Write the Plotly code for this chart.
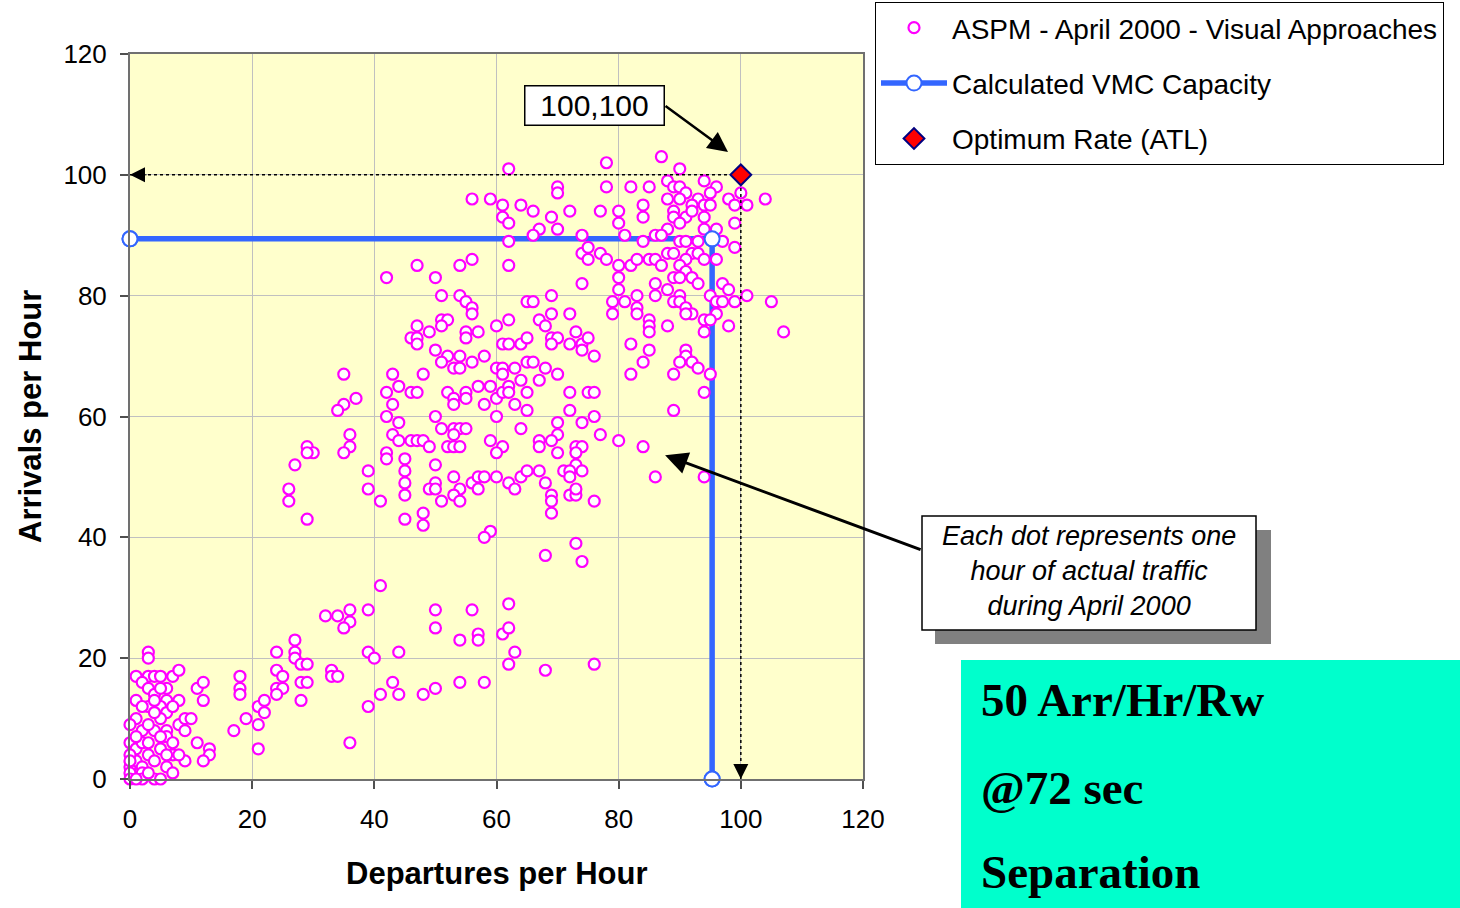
import plotly.graph_objects as go

# Hourly (departures, arrivals) counts, grouped by traffic level
night_hours = [
    (3, 21), (3, 20), (1, 17), (3, 17), (4, 17), (5, 17), (7, 17), (8, 18), (2, 16), (3, 15),
    (4, 14), (6, 15), (6, 13), (5, 15), (1, 13), (3, 12), (5, 12), (6, 11), (8, 13), (11, 15),
    (12, 16), (12, 13), (18, 17), (18, 15), (18, 14), (1, 10), (0, 9), (2, 8), (4, 8), (6, 8),
    (6, 7), (8, 9), (9, 10), (10, 10), (9, 8), (5, 10), (17, 8), (19, 10), (0, 6), (1, 5),
    (2, 6), (3, 4), (5, 5), (7, 4), (9, 3), (11, 6), (13, 5), (13, 4), (12, 3), (0, 2),
    (1, 3), (2, 2), (4, 3), (6, 2), (7, 1), (0, 1), (2, 1), (0, 0), (2, 0), (4, 0),
    (5, 0), (1, 0), (21, 12), (22, 13), (22, 11), (21, 9), (21, 5), (4, 13), (2, 12), (4, 11),
    (5, 7), (3, 9), (0, 4), (1, 7), (7, 12), (3, 6), (8, 4), (3, 1), (0, 3), (6, 4), (7, 6),
]

ramp_hours = [
    (24, 21), (27, 23), (27, 21), (27, 20), (28, 19), (29, 19), (24, 18), (25, 17), (24, 15), (25, 15),
    (24, 14), (28, 16), (29, 16), (28, 13), (32, 27), (34, 27), (36, 28), (36, 26), (35, 25), (39, 28),
    (41, 32), (39, 21), (40, 20), (44, 21), (33, 18), (33, 17), (34, 17), (43, 16), (41, 14), (44, 14),
    (48, 14), (39, 12), (36, 6), (50, 28), (56, 28), (62, 29), (50, 25), (54, 23), (57, 24), (57, 23),
    (61, 24), (62, 25), (63, 21), (62, 19), (68, 18), (76, 19), (50, 15), (54, 16), (58, 16), (68, 37),
    (73, 39), (74, 36),
]

daytime_hours = [
    (62, 85), (42, 83), (47, 85), (50, 83), (54, 85), (56, 86), (51, 80), (54, 80), (55, 79), (56, 78),
    (56, 77), (65, 79), (47, 75), (51, 76), (52, 76), (51, 75), (49, 74), (46, 73), (47, 73), (47, 72),
    (55, 74), (55, 73), (57, 74), (60, 75), (62, 76), (61, 72), (62, 72), (64, 72), (65, 73), (50, 71),
    (52, 70), (54, 70), (51, 69), (53, 68), (54, 68), (56, 69), (58, 70), (60, 68), (61, 68), (63, 68),
    (61, 67), (65, 69), (35, 67), (43, 67), (48, 67), (44, 65), (42, 64), (46, 64), (47, 64), (43, 62),
    (52, 64), (53, 63), (55, 64), (55, 63), (53, 62), (57, 65), (59, 65), (58, 62), (60, 63), (61, 64),
    (62, 65), (62, 64), (63, 62), (64, 66), (65, 64), (65, 61), (60, 60), (37, 63), (35, 62), (34, 61),
    (42, 60), (44, 59), (50, 60), (51, 58), (53, 58), (54, 58), (55, 58), (53, 57), (64, 58), (43, 57),
    (44, 56), (46, 56), (47, 56), (48, 56), (49, 55), (52, 55), (53, 55), (54, 55), (59, 56), (61, 55),
    (60, 54), (36, 57), (36, 55), (35, 54), (29, 55), (30, 54), (29, 54), (27, 52), (42, 54), (42, 53),
    (45, 53), (50, 52), (39, 51), (45, 51), (39, 48), (26, 48), (26, 46), (41, 46), (45, 49), (45, 47),
    (50, 49), (49, 48), (50, 48), (51, 46), (53, 50), (54, 48), (53, 47), (54, 46), (56, 49), (57, 50),
    (58, 50), (57, 48), (60, 50), (62, 49), (63, 48), (64, 50), (65, 51), (29, 43), (45, 43), (48, 44),
    (48, 42), (59, 41), (58, 40),
]

busy_hours = [
    (74, 87), (75, 88), (75, 86), (77, 87), (78, 86), (80, 85), (82, 85), (83, 86), (80, 83), (80, 81),
    (79, 79), (81, 79), (83, 80), (83, 78), (83, 77), (79, 77), (82, 72), (82, 67), (89, 61), (84, 55),
    (86, 50), (94, 50), (94, 64), (69, 80), (66, 79), (67, 76), (69, 77), (72, 77), (68, 75), (73, 74),
    (69, 73), (70, 73), (69, 72), (72, 72), (74, 72), (75, 73), (74, 71), (76, 70), (66, 69), (68, 68),
    (70, 67), (67, 66), (72, 64), (75, 64), (76, 64), (72, 61), (76, 60), (74, 59), (70, 59), (70, 57),
    (69, 56), (67, 56), (67, 55), (73, 55), (74, 55), (73, 54), (70, 54), (77, 57), (80, 56), (73, 52),
    (67, 51), (68, 49), (69, 47), (69, 46), (69, 44), (71, 51), (72, 51), (72, 50), (74, 51), (72, 47),
    (73, 47), (73, 48), (76, 46), (74, 82),
    (62, 101), (78, 102), (70, 98), (70, 97), (78, 98), (82, 98), (56, 96), (59, 96), (61, 95), (64, 95),
    (66, 94), (61, 93), (62, 92), (69, 93), (72, 94), (77, 94), (80, 94), (80, 92), (67, 91), (66, 90),
    (70, 91), (62, 89), (74, 90), (81, 90),
]

peak_hours = [
    (87, 103), (90, 101), (85, 98), (88, 99), (89, 98), (90, 98), (91, 97), (94, 99), (96, 98), (95, 97),
    (88, 96), (90, 96), (93, 96), (92, 95), (94, 95), (95, 95), (98, 96), (99, 95), (101, 95), (104, 96),
    (100, 97), (84, 95), (84, 93), (89, 94), (89, 93), (91, 93), (94, 93), (90, 92), (92, 94), (99, 92),
    (88, 91), (94, 91), (96, 91), (86, 90), (87, 90), (90, 89), (91, 89), (93, 89), (84, 89), (97, 89),
    (99, 88), (88, 87), (89, 87), (92, 87), (93, 87), (85, 86), (86, 86), (87, 85), (91, 86), (94, 86),
    (96, 86), (90, 85), (91, 84), (92, 83), (93, 82), (89, 83), (90, 83), (86, 82), (88, 81), (97, 82),
    (98, 81), (95, 80), (96, 79), (97, 79), (99, 79), (101, 80), (105, 79), (86, 80), (90, 80), (89, 79),
    (90, 79), (91, 78), (92, 77), (91, 77), (96, 77), (94, 76), (95, 76), (98, 75), (94, 74), (107, 74),
    (85, 76), (85, 75), (85, 74), (88, 75), (85, 71), (91, 71), (91, 70), (90, 69), (92, 69), (93, 68),
    (95, 67), (89, 67), (84, 69),
]

# Calculated VMC capacity envelope (departures, arrivals)
vmc_departures = [0, 95.3, 95.3]
vmc_arrivals = [89.4, 89.4, 0]

# Optimum rate for ATL
optimum_departures = [100]
optimum_arrivals = [100]

x_ticks = [0, 20, 40, 60, 80, 100, 120]
y_ticks = [0, 20, 40, 60, 80, 100, 120]

all_hours = night_hours + ramp_hours + daytime_hours + busy_hours + peak_hours
aspm_departures = [d for d, a in all_hours]
aspm_arrivals = [a for d, a in all_hours]

FONT = "Arial, 'Liberation Sans', sans-serif"
SERIF = "'Times New Roman', 'Liberation Serif', serif"
BLUE = "#3366FF"
MAGENTA = "#FF00FF"

# plot-area geometry in pixels, used to place paper-referenced decorations
L, R, T, B = 130, 863, 54, 779
W, H = R - L, B - T


def px(x):
    return (x - L) / W


def py(y):
    return (B - y) / H


fig = go.Figure()

fig.add_trace(go.Scatter(
    x=vmc_departures, y=vmc_arrivals, mode="lines+markers",
    name="Calculated VMC Capacity", legendgroup="vmc", legendrank=2,
    line=dict(color=BLUE, width=5.5),
    marker=dict(symbol="circle", size=15, color="white", line=dict(color=BLUE, width=2)),
    cliponaxis=False, hoverinfo="skip",
))

fig.add_trace(go.Scatter(
    x=aspm_departures, y=aspm_arrivals, mode="markers",
    name="ASPM - April 2000 - Visual Approaches", legendgroup="aspm", legendrank=1,
    marker=dict(symbol="circle", size=11, color="white", line=dict(color=MAGENTA, width=2.2)),
    cliponaxis=False,
))

# capacity end-points drawn again above the hourly dots
fig.add_trace(go.Scatter(
    x=vmc_departures, y=vmc_arrivals, mode="markers", showlegend=False,
    marker=dict(symbol="circle", size=15, color="white", line=dict(color=BLUE, width=2)),
    cliponaxis=False, hoverinfo="skip",
))

# dotted drop lines from the optimum point to both axes
fig.add_trace(go.Scatter(
    x=[0, optimum_departures[0], optimum_departures[0]],
    y=[optimum_arrivals[0], optimum_arrivals[0], 0],
    mode="lines", showlegend=False, hoverinfo="skip",
    line=dict(color="black", width=1.5, dash="dot"),
))

fig.add_trace(go.Scatter(
    x=optimum_departures, y=optimum_arrivals, mode="markers",
    name="Optimum Rate (ATL)", legendgroup="opt", legendrank=3,
    marker=dict(symbol="diamond", size=16, color="#FF0000", line=dict(color="#000080", width=2)),
    cliponaxis=False,
))

axis_common = dict(
    range=[0, 120], showgrid=True, gridcolor="#C0C0C0", gridwidth=1,
    showline=True, mirror=True, linecolor="#707070", linewidth=2,
    ticks="outside", ticklen=8, tickcolor="#505050", tickwidth=1.5,
    zeroline=False, tickfont=dict(family=FONT, size=26, color="black"),
)

fig.update_xaxes(tickvals=x_ticks, ticklabelstandoff=8, **axis_common)
fig.update_yaxes(tickvals=y_ticks, ticklabelstandoff=8, **axis_common)

shapes = [
    # note box shadow and box
    dict(type="rect", xref="paper", yref="paper", x0=px(935), x1=px(1271), y0=py(644), y1=py(530),
         fillcolor="#808080", line=dict(width=0)),
    dict(type="rect", xref="paper", yref="paper", x0=px(922), x1=px(1256), y0=py(630), y1=py(516),
         fillcolor="white", line=dict(color="black", width=1.5)),
    # separation panel
    dict(type="rect", xref="paper", yref="paper", x0=px(961), x1=px(1460), y0=py(908), y1=py(660),
         fillcolor="#00FFCC", line=dict(width=0)),
]

annotations = [
    dict(text="<b>Departures per Hour</b>", xref="paper", yref="paper", x=0.5, y=py(873),
         showarrow=False, font=dict(family=FONT, size=31, color="black"), yanchor="middle"),
    dict(text="<b>Arrivals per Hour</b>", xref="paper", yref="paper", x=px(30), y=py(417),
         showarrow=False, textangle=-90, font=dict(family=FONT, size=31, color="black"),
         xanchor="center", yanchor="middle"),
    # "100,100" label box
    dict(text="100,100", xref="paper", yref="paper", x=px(594.5), y=py(105.5), showarrow=False,
         font=dict(family=FONT, size=30, color="black"), bgcolor="white",
         bordercolor="black", borderwidth=1.5, width=136, height=36,
         xanchor="center", yanchor="middle"),
    # arrow from the label to the optimum point
    dict(text="", x=97.9, y=103.8, xref="x", yref="y", ax=664 - 728, ay=105 - 152,
         showarrow=True, arrowhead=2, arrowwidth=2.5, arrowsize=1.6, arrowcolor="black"),
    # note text and its arrow
    dict(text="<i>Each dot represents one<br>hour of actual traffic<br>during April 2000</i>",
         xref="paper", yref="paper", x=px(1089), y=py(571), showarrow=False,
         font=dict(family=FONT, size=27, color="black"), align="center",
         xanchor="center", yanchor="middle"),
    dict(text="", x=87.6, y=53.6, xref="x", yref="y", ax=922 - 665, ay=550 - 455,
         showarrow=True, arrowhead=2, arrowwidth=3, arrowsize=1.5, arrowcolor="black"),
    # arrowheads at the ends of the drop lines
    dict(text="", x=0, y=optimum_arrivals[0], xref="x", yref="y", ax=18, ay=0,
         showarrow=True, arrowhead=2, arrowwidth=1, arrowsize=3, arrowcolor="black"),
    dict(text="", x=optimum_departures[0], y=0, xref="x", yref="y", ax=0, ay=-16,
         showarrow=True, arrowhead=2, arrowwidth=1, arrowsize=3, arrowcolor="black"),
    # separation panel text
    dict(text="<b>50 Arr/Hr/Rw</b>", xref="paper", yref="paper", x=px(979), y=py(700),
         showarrow=False, xanchor="left", yanchor="middle",
         font=dict(family=SERIF, size=47, color="black")),
    dict(text="<b>@72 sec</b>", xref="paper", yref="paper", x=px(979), y=py(788),
         showarrow=False, xanchor="left", yanchor="middle",
         font=dict(family=SERIF, size=47, color="black")),
    dict(text="<b>Separation</b>", xref="paper", yref="paper", x=px(979), y=py(872),
         showarrow=False, xanchor="left", yanchor="middle",
         font=dict(family=SERIF, size=47, color="black")),
]

fig.update_layout(
    width=1460, height=908,
    margin=dict(l=L, r=1460 - R, t=T, b=908 - B, pad=0, autoexpand=False),
    paper_bgcolor="white", plot_bgcolor="#FFFFCC",
    font=dict(family=FONT, size=26, color="black"),
    showlegend=True,
    legend=dict(
        x=px(875), y=py(2), xanchor="left", yanchor="top",
        bgcolor="white", bordercolor="black", borderwidth=1,
        font=dict(family=FONT, size=28, color="black"),
        traceorder="grouped", tracegroupgap=16, itemwidth=66,
    ),
    shapes=shapes,
    annotations=annotations,
)

fig.write_html("out.html")
